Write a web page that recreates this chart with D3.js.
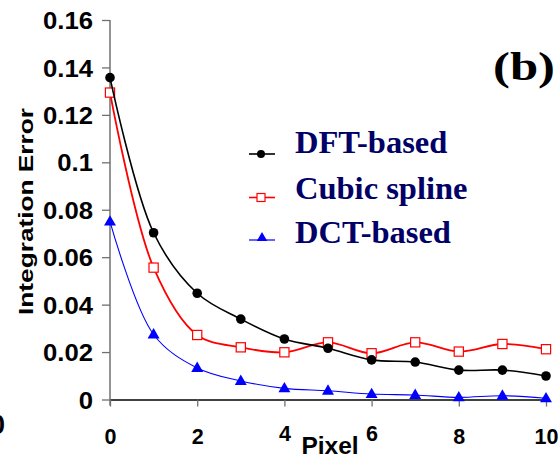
<!DOCTYPE html>
<html>
<head>
<meta charset="utf-8">
<script src="https://cdn.jsdelivr.net/npm/d3@7"></script>
<style>
  html, body { margin: 0; padding: 0; background: #fff; }
  svg { display: block; }
</style>
</head>
<body>
<svg id="chart" width="560" height="458"></svg>
<script>
// ---- data ----
const pixels = [0, 1, 2, 3, 4, 5, 6, 7, 8, 9, 10];
const dftBased   = [0.1357, 0.0703, 0.0448, 0.0339, 0.0255, 0.0216, 0.0167, 0.0158, 0.0124, 0.0124, 0.0099];
const cubicSpline = [0.1294, 0.0556, 0.0272, 0.0220, 0.0199, 0.0241, 0.0195, 0.0241, 0.0202, 0.0234, 0.0212];
const dctBased   = [0.0750, 0.0274, 0.0133, 0.0078, 0.0047, 0.0037, 0.0023, 0.0019, 0.0009, 0.0016, 0.0005];
const seriesNames = ["DFT-based", "Cubic spline", "DCT-based"];
const yTickValues = [0, 0.02, 0.04, 0.06, 0.08, 0.1, 0.12, 0.14, 0.16];
const yTickLabels = ["0", "0.02", "0.04", "0.06", "0.08", "0.1", "0.12", "0.14", "0.16"];
const xTickValues = [0, 2, 4, 6, 8, 10];
const xTickLabels = ["0", "2", "4", "6", "8", "10"];
const xTitle = "Pixel";
const yTitle = "Integration Error";
const panelLabel = "(b)";

// ---- layout ----
const svg = d3.select("#chart");
const x = d3.scaleLinear().domain([0, 10]).range([110, 546]);
const y = d3.scaleLinear().domain([0, 0.16]).range([399.5, 20]);
const sansFont = "'Liberation Sans', Arial, sans-serif";
const serifFont = "'Liberation Serif', 'Times New Roman', serif";

// partial label from neighbouring panel at left edge (cut off in the reference too)
svg.append("text").attr("x", 5).attr("y", 434).attr("text-anchor", "end")
  .attr("font-family", sansFont).attr("font-weight", "bold").attr("font-size", 27)
  .attr("fill", "#000").text("10");

// y axis
const yAxis = svg.append("g").attr("transform", `translate(${x(0)},0)`)
  .call(d3.axisLeft(y).tickValues(yTickValues)
    .tickFormat((d, i) => yTickLabels[i]).tickSize(8).tickSizeOuter(0).tickPadding(9));
yAxis.select(".domain").remove();
yAxis.selectAll(".tick line").attr("stroke", "#707070").attr("stroke-width", 1.3);
yAxis.selectAll(".tick text").attr("font-family", sansFont).attr("font-weight", "bold")
  .attr("font-size", 24).attr("fill", "#000").attr("dy", "0.36em")
  .each(function () {
    const w = this.getComputedTextLength();
    d3.select(this).attr("textLength", w * 1.07).attr("lengthAdjust", "spacingAndGlyphs");
  });
svg.append("line").attr("x1", x(0)).attr("x2", x(0)).attr("y1", y(0.16)).attr("y2", y(0) + 6)
  .attr("stroke", "#707070").attr("stroke-width", 1.5);

// x axis
const xAxis = svg.append("g").attr("transform", `translate(0,${y(0)})`)
  .call(d3.axisBottom(x).tickValues(xTickValues)
    .tickFormat((d, i) => xTickLabels[i]).tickSize(7).tickSizeOuter(0));
xAxis.select(".domain").attr("stroke", "#000").attr("stroke-width", 1.5);
xAxis.selectAll(".tick line").attr("stroke", "#707070").attr("stroke-width", 1.3);
xAxis.selectAll(".tick text").attr("font-family", sansFont).attr("font-weight", "bold")
  .attr("font-size", 21.5).attr("fill", "#000")
  .attr("dy", 0).attr("y", d => (d === 4 || d === 6) ? 41 : 44);

// axis titles
svg.append("text").attr("x", 330).attr("y", 454).attr("text-anchor", "middle")
  .attr("font-family", sansFont).attr("font-weight", "bold").attr("font-size", 24.5)
  .attr("fill", "#000").text(xTitle);
svg.append("text").attr("transform", "translate(33,211.5) rotate(-90)")
  .attr("text-anchor", "middle").attr("font-family", sansFont).attr("font-weight", "bold")
  .attr("font-size", 21).attr("fill", "#000")
  .attr("textLength", 207).attr("lengthAdjust", "spacingAndGlyphs").text(yTitle);

// panel label
svg.append("text").attr("x", 493).attr("y", 80)
  .attr("font-family", serifFont).attr("font-weight", "bold").attr("font-size", 41)
  .attr("fill", "#000").attr("textLength", 62).attr("lengthAdjust", "spacingAndGlyphs")
  .text(panelLabel);

// series
const curve = d3.curveCatmullRom.alpha(0.5);
const mkLine = vals => d3.line().curve(curve)
  .x((d, i) => x(pixels[i])).y(d => y(d))(vals);

const series = [
  { name: seriesNames[2], vals: dctBased, color: "#0000ff", width: 1.1, marker: "tri" },
  { name: seriesNames[1], vals: cubicSpline, color: "#ff0000", width: 1.8, marker: "sq" },
  { name: seriesNames[0], vals: dftBased, color: "#000000", width: 1.6, marker: "circ" }
];

function drawMarker(g, type, cx, cy, color) {
  if (type === "circ") {
    g.append("circle").attr("cx", cx).attr("cy", cy).attr("r", 4.8).attr("fill", color);
  } else if (type === "sq") {
    g.append("rect").attr("x", cx - 4.6).attr("y", cy - 4.6).attr("width", 9.2).attr("height", 9.2)
      .attr("fill", "#fff").attr("stroke", color).attr("stroke-width", 1.2);
  } else {
    g.append("path").attr("d", d3.symbol(d3.symbolTriangle, 62)())
      .attr("transform", `translate(${cx},${cy + 0.5})`).attr("fill", color);
  }
}

series.forEach(s => {
  const g = svg.append("g");
  g.append("path").attr("d", mkLine(s.vals)).attr("fill", "none")
    .attr("stroke", s.color).attr("stroke-width", s.width);
  s.vals.forEach((v, i) => drawMarker(g, s.marker, x(pixels[i]), y(v), s.color));
});

// legend
const legendRows = [
  { name: seriesNames[0], color: "#000000", marker: "circ", width: 1.6, ly: 154, ty: 153 },
  { name: seriesNames[1], color: "#ff0000", marker: "sq", width: 1.6, ly: 197.5, ty: 199 },
  { name: seriesNames[2], color: "#0000ff", marker: "tri", width: 1.2, ly: 240, ty: 243 }
];
legendRows.forEach(r => {
  const g = svg.append("g");
  g.append("line").attr("x1", 249).attr("x2", 275).attr("y1", r.ly).attr("y2", r.ly)
    .attr("stroke", r.color).attr("stroke-width", r.width);
  if (r.marker === "circ") {
    g.append("circle").attr("cx", 261).attr("cy", r.ly).attr("r", 4).attr("fill", r.color);
  } else if (r.marker === "sq") {
    g.append("rect").attr("x", 257).attr("y", r.ly - 4).attr("width", 8).attr("height", 8)
      .attr("fill", "#fff").attr("stroke", r.color).attr("stroke-width", 1.2);
  } else {
    g.append("path").attr("d", d3.symbol(d3.symbolTriangle, 48)())
      .attr("transform", `translate(262,${r.ly - 2})`).attr("fill", r.color);
  }
  g.append("text").attr("x", 295).attr("y", r.ty)
    .attr("font-family", serifFont).attr("font-weight", "bold").attr("font-size", 32.5)
    .attr("fill", "#000066").text(r.name);
});
</script>
</body>
</html>
